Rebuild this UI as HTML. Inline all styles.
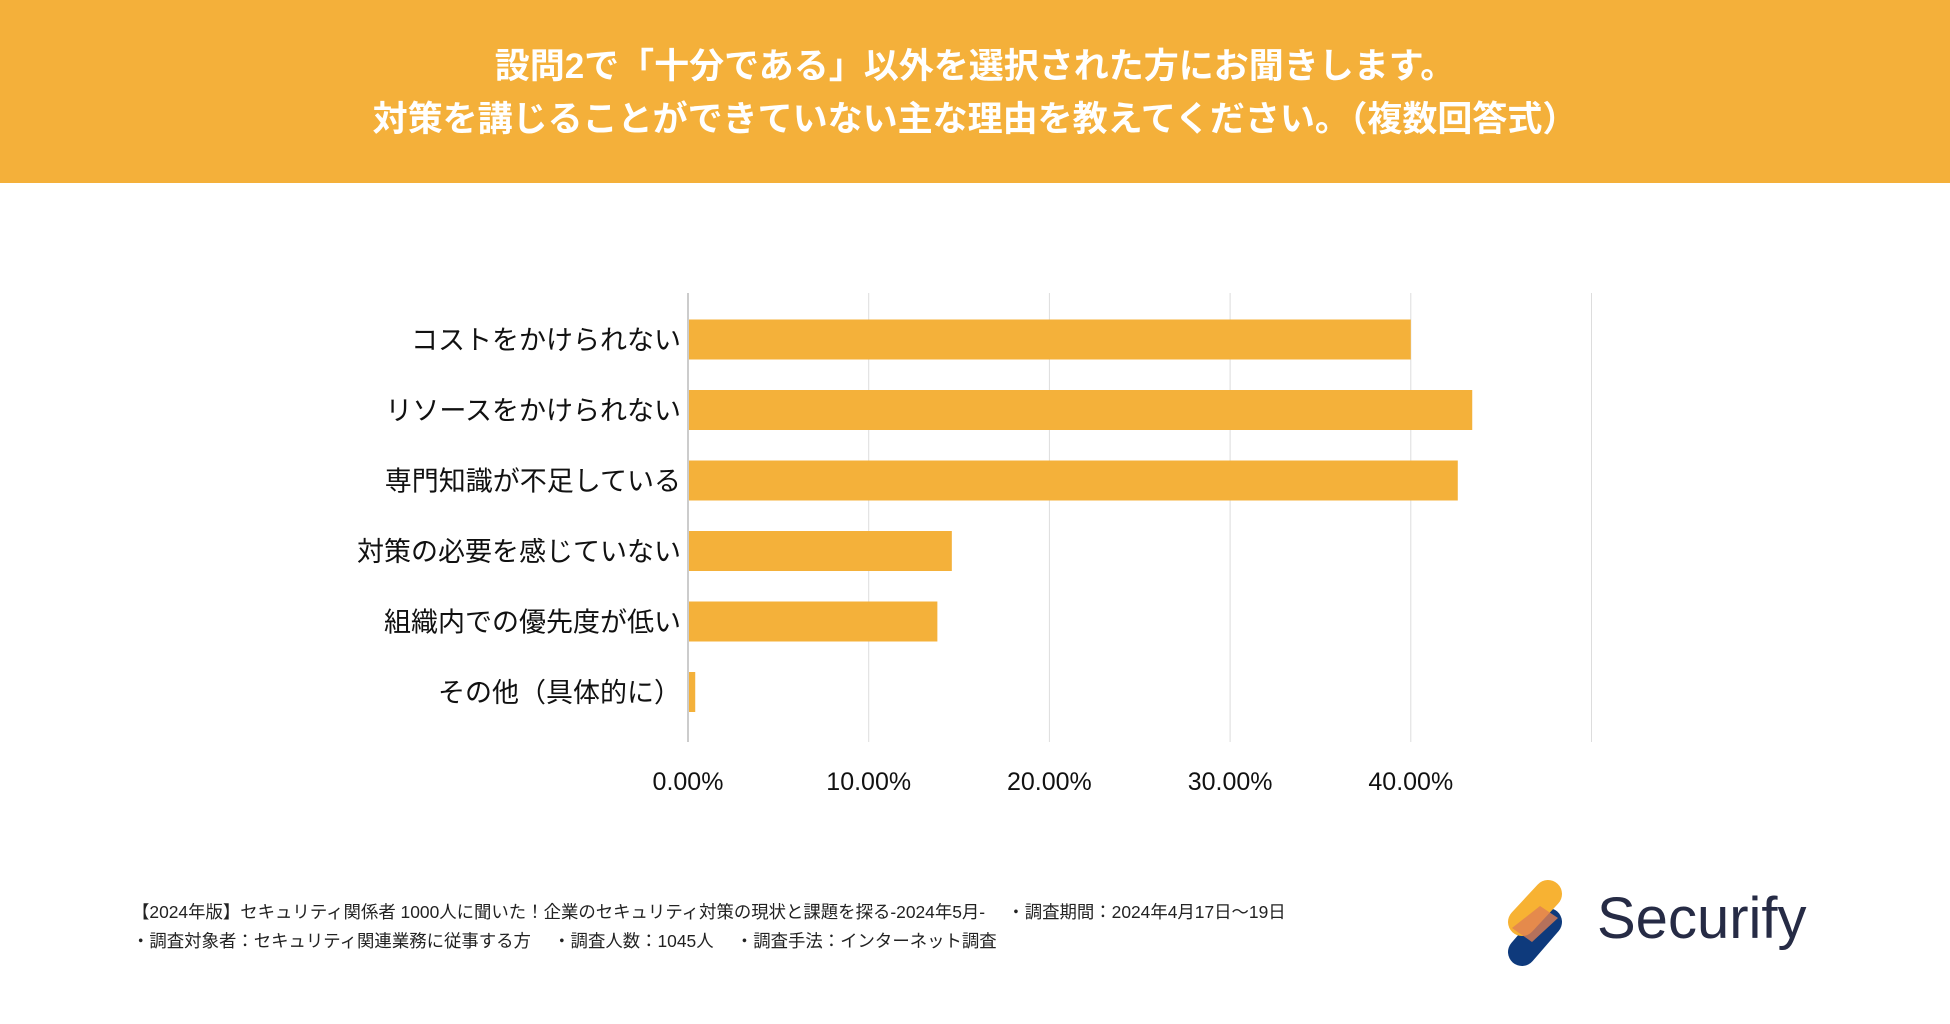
<!DOCTYPE html>
<html><head><meta charset="utf-8"><style>
body{margin:0;width:1950px;height:1024px;background:#fff;position:relative;overflow:hidden;font-family:"Liberation Sans","Noto Sans CJK JP",sans-serif;}
#hdr{position:absolute;left:0;top:0;width:1950px;height:183px;background:#F4B03A;color:#fff;text-align:center;font-weight:bold;font-size:35px;line-height:53px;}
.ft{position:absolute;font-size:17.4px;color:#222;white-space:pre;}
</style></head><body>
<div id="hdr"><div style="padding-top:40px">設問2で「十分である」以外を選択された方にお聞きします。<br>対策を講じることができていない主な理由を教えてください。（複数回答式）</div></div>
<svg id="chart" width="1950" height="850" style="position:absolute;left:0;top:0"></svg>
<div class="ft" style="left:132px;top:899px">【2024年版】セキュリティ関係者 1000人に聞いた！企業のセキュリティ対策の現状と課題を探る-2024年5月-　 ・調査期間：2024年4月17日〜19日</div>
<div class="ft" style="left:132px;top:928px">・調査対象者：セキュリティ関連業務に従事する方　 ・調査人数：1045人　 ・調査手法：インターネット調査</div>
<svg style="position:absolute;left:1500px;top:870px" width="80" height="105">
<line x1="22" y1="82" x2="48" y2="52" stroke="#0E3A7C" stroke-width="28" stroke-linecap="round"/>
<line x1="22" y1="52" x2="48" y2="24" stroke="#F7B233" stroke-width="28" stroke-linecap="round"/>
<path d="M12 58 L40 36 L58 48 L32 72Z" fill="#E07F52" opacity="0.8"/>
</svg>
<div style="position:absolute;left:1597px;top:885px;font-size:58px;font-weight:500;color:#262B45">Securify</div>
<script>
const categories=["コストをかけられない","リソースをかけられない","専門知識が不足している","対策の必要を感じていない","組織内での優先度が低い","その他（具体的に）"];
const values=[40.0,43.4,42.6,14.6,13.8,0.4];
const ticks=[0,10,20,30,40,50];
const tickLabels=["0.00%","10.00%","20.00%","30.00%","40.00%",""];
const svg=document.getElementById('chart');const NS="http://www.w3.org/2000/svg";
const x0=688,pxPer=18.07,plotTop=293,plotBottom=742,step=70.5,c0=339.5,bh=40;
const X=v=>x0+v*pxPer;const Y=i=>c0+i*step;
function mk(t,a){const e=document.createElementNS(NS,t);for(const k in a)e.setAttribute(k,a[k]);svg.appendChild(e);return e;}
ticks.forEach((t,i)=>{
 const g=mk('line',{x1:X(t),x2:X(t),y1:plotTop,y2:plotBottom,stroke:i==0?'#999':'#ddd','stroke-width':1});
 
 
 if(tickLabels[i]){const l=mk('text',{x:X(t),y:790,'text-anchor':'middle','font-size':25,fill:'#111'});l.textContent=tickLabels[i];
 
 }
});
categories.forEach((c,i)=>{
 const r=mk('rect',{x:x0+1,y:Y(i)-bh/2,width:X(values[i])-x0-1,height:bh,fill:'#F4B13A'});
 
 
 const l=mk('text',{x:681,y:Y(i)+10,'text-anchor':'end','font-size':27,fill:'#111'});l.textContent=c;
 
 
});
</script>
</body></html>
